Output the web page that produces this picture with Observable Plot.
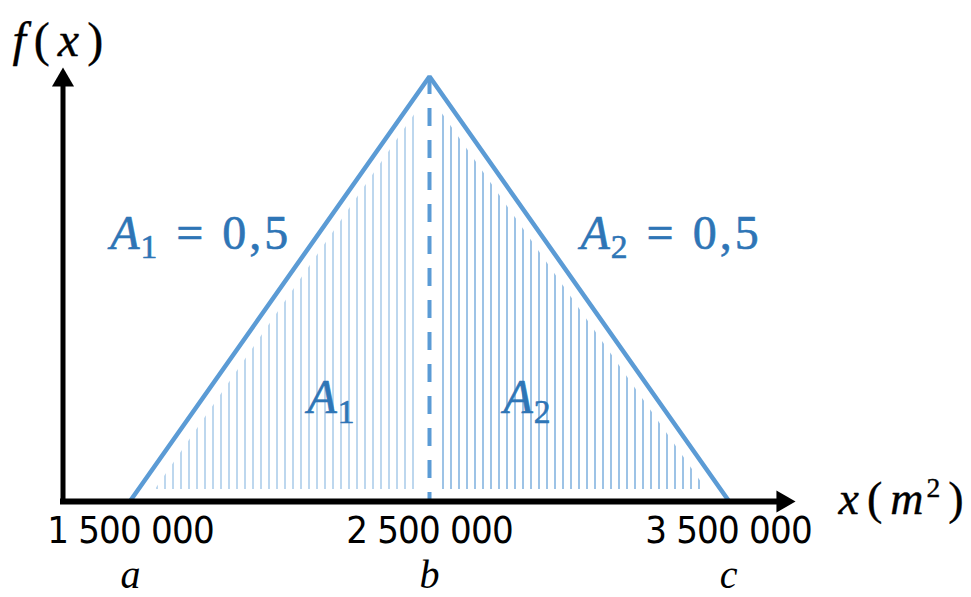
<!DOCTYPE html>
<html><head><meta charset="utf-8">
<script src="https://cdn.jsdelivr.net/npm/d3@7"></script>
<script src="https://cdn.jsdelivr.net/npm/@observablehq/plot@0.6"></script>
<style>html,body{margin:0;padding:0;background:#fff;overflow:hidden}</style>
</head><body><div id="chart"></div>
<script>
// ---- data ----
const pointLabels = ["a", "b", "c"];
const pointValues = [1500000, 2500000, 3500000];
const tickLabels = ["1 500 000", "2 500 000", "3 500 000"];
const pointDensity = [0, 1e-6, 0];          // f(a), f(b), f(c)
const areaNames = ["A₁", "A₂"];
const areaValues = [0.5, 0.5];
const axisTitles = ["f(x)", "x(m²)"];
// hatched regions (vertices: x, top of hatch; shared base)
const hatchLeftX = [1583600, 2453200];
const hatchLeftTop = [0.0259e-6, 0.9127e-6];
const hatchRightX = [2540100, 3426400];
const hatchRightTop = [0.9151e-6, 0.0259e-6];
const hatchBase = [0.0259e-6];

// ---- layout (data units) ----
const L = {
  yAxisX: 1274250, yAxisBottom: -0.0094e-6, yAxisTop: 0.9764e-6, yArrowY: 0.9913e-6,
  xAxisY: -0.0024e-6, xAxisStart: 1265900, xAxisEnd: 3663900, xArrowX: 3681600,
  areaLabelX: [1432000, 3005000], areaLabelY: 0.5943e-6,
  innerLabelX: [2092000, 2747500], innerLabelY: 0.2052e-6,
  fxX: 1105350, fxY: 1.0495e-6, xmX: 3867900, xmY: -0.0307e-6
};

const blue = "#5b9bd5", labelBlue = "#2e75b6";
const mathFont = "'Liberation Serif', 'DejaVu Serif', serif";
const tickFont = "'Liberation Sans Narrow', 'DejaVu Sans Condensed', 'Liberation Sans', sans-serif";
const fmt = v => String(v).replace(".", ",");
const areaLabels = areaNames.map((n, i) => ({x: L.areaLabelX[i], y: L.areaLabelY, text: `${n} = ${fmt(areaValues[i])}`}));
const innerLabels = areaNames.map((n, i) => ({x: L.innerLabelX[i], y: L.innerLabelY, text: n}));
const titles = [
  {x: L.fxX, y: L.fxY, text: axisTitles[0]},
  {x: L.xmX, y: L.xmY, text: axisTitles[1]}
];
const tri = pointValues.map((x, i) => ({x, y: pointDensity[i]}));
const hl = hatchLeftX.map((x, i) => ({x, top: hatchLeftTop[i]}));
const hr = hatchRightX.map((x, i) => ({x, top: hatchRightTop[i]}));

const plot = Plot.plot({
  width: 971, height: 597,
  marginTop: 76, marginBottom: 97, marginLeft: 130, marginRight: 243,
  x: {domain: [1500000, 3500000], axis: null},
  y: {domain: [0, 1e-6], axis: null},
  style: {background: "white", overflow: "visible"},
  marks: [
    Plot.areaY(hl, {x: "x", y1: hatchBase[0], y2: "top", fill: "url(#hatchL)"}),
    Plot.areaY(hr, {x: "x", y1: hatchBase[0], y2: "top", fill: "url(#hatchR)"}),
    Plot.line(tri, {x: "x", y: "y", stroke: blue, strokeWidth: 4.5, strokeLinejoin: "miter", strokeLinecap: "butt"}),
    Plot.ruleX([pointValues[1]], {y1: pointDensity[1], y2: 0, stroke: blue, strokeWidth: 4, strokeDasharray: "18,14"}),
    Plot.ruleX([L.yAxisX], {y1: L.yAxisBottom, y2: L.yAxisTop, stroke: "black", strokeWidth: 5}),
    Plot.ruleY([L.xAxisY], {x1: L.xAxisStart, x2: L.xAxisEnd, stroke: "black", strokeWidth: 6}),
    Plot.dot([{x: L.yAxisX, y: L.yArrowY, r: 0}, {x: L.xArrowX, y: L.xAxisY, r: 90}],
      {x: "x", y: "y", rotate: "r", symbol: "triangle", r: 8.2, fill: "black", stroke: null}),
    Plot.text(pointValues, {x: d => d, text: (d, i) => tickLabels[i], frameAnchor: "bottom", lineAnchor: "bottom",
      dy: 42, fontSize: 38, fontFamily: tickFont, fill: "black"}),
    Plot.text(pointValues, {x: d => d, text: (d, i) => pointLabels[i], frameAnchor: "bottom", lineAnchor: "bottom",
      dy: 87, fontSize: 40, fontFamily: mathFont, fontStyle: "italic", fill: "black"}),
    Plot.text(areaLabels, {x: "x", y: "y", text: "text", textAnchor: "start", lineAnchor: "bottom",
      fontSize: 48, fontFamily: mathFont, fill: labelBlue, stroke: labelBlue, strokeWidth: 0.6}),
    Plot.text(innerLabels, {x: "x", y: "y", text: "text", textAnchor: "start", lineAnchor: "bottom",
      fontSize: 48, fontFamily: mathFont, fill: labelBlue, stroke: labelBlue, strokeWidth: 0.6}),
    Plot.text(titles.slice(0, 1), {x: "x", y: "y", text: "text", textAnchor: "start", lineAnchor: "bottom",
      fontSize: 48, fontFamily: mathFont, fill: "black", stroke: "black", strokeWidth: 0.4}),
    Plot.text(titles.slice(1), {x: "x", y: "y", text: "text", textAnchor: "start", lineAnchor: "bottom",
      fontSize: 46, fontFamily: mathFont, fill: "black", stroke: "black", strokeWidth: 0.4})
  ]
});
document.getElementById("chart").appendChild(plot);

const svg = d3.select(plot);
// tighten tick label tracking
svg.selectAll("text").filter(function () { return tickLabels.includes(this.textContent); })
  .style("letter-spacing", "-0.8px");

// hatch patterns
const defs = svg.insert("defs", ":first-child");
[["hatchL", 4, "#bdd7ee"], ["hatchR", 2, "#9dc3e6"]].forEach(([id, ox, c]) => {
  const p = defs.append("pattern").attr("id", id).attr("patternUnits", "userSpaceOnUse")
    .attr("x", ox).attr("y", 0).attr("width", 8).attr("height", 8);
  p.append("rect").attr("x", 0).attr("y", 0).attr("width", 2).attr("height", 8).attr("fill", c);
});

// math typesetting: italic letters, upright digits/symbols, sub/superscripts
const mathTexts = new Map([
  ...areaLabels.map(d => [d.text, 3]),
  ...innerLabels.map(d => [d.text, 0]),
  [axisTitles[0], 8], [axisTitles[1], 8]
]);
const SUB = {"₁": "1", "₂": "2"}, SUP = {"²": "2"};
svg.selectAll("text").each(function () {
  const s = this.textContent;
  if (!mathTexts.has(s)) return;
  const gap = mathTexts.get(s);
  const fs = parseFloat(getComputedStyle(this).fontSize);
  this.textContent = "";
  let shift = 0, first = true;
  for (const ch of s) {
    const t = document.createElementNS("http://www.w3.org/2000/svg", "tspan");
    let target = 0, dx = first ? 0 : gap;
    if (SUB[ch]) { t.textContent = SUB[ch]; t.setAttribute("font-size", fs * 0.7); target = fs * 0.19; dx = 1; }
    else if (SUP[ch]) { t.textContent = SUP[ch]; t.setAttribute("font-size", fs * 0.6); target = -fs * 0.36; dx = 3; }
    else if (ch === " ") { t.textContent = "\u00a0"; dx = 4; }
    else { t.textContent = ch; t.setAttribute("font-style", /[A-Za-z]/.test(ch) ? "italic" : "normal"); }
    if (target !== shift) t.setAttribute("dy", target - shift);
    if (dx) t.setAttribute("dx", dx);
    shift = target; first = false;
    this.appendChild(t);
  }
});
</script>
</body></html>
